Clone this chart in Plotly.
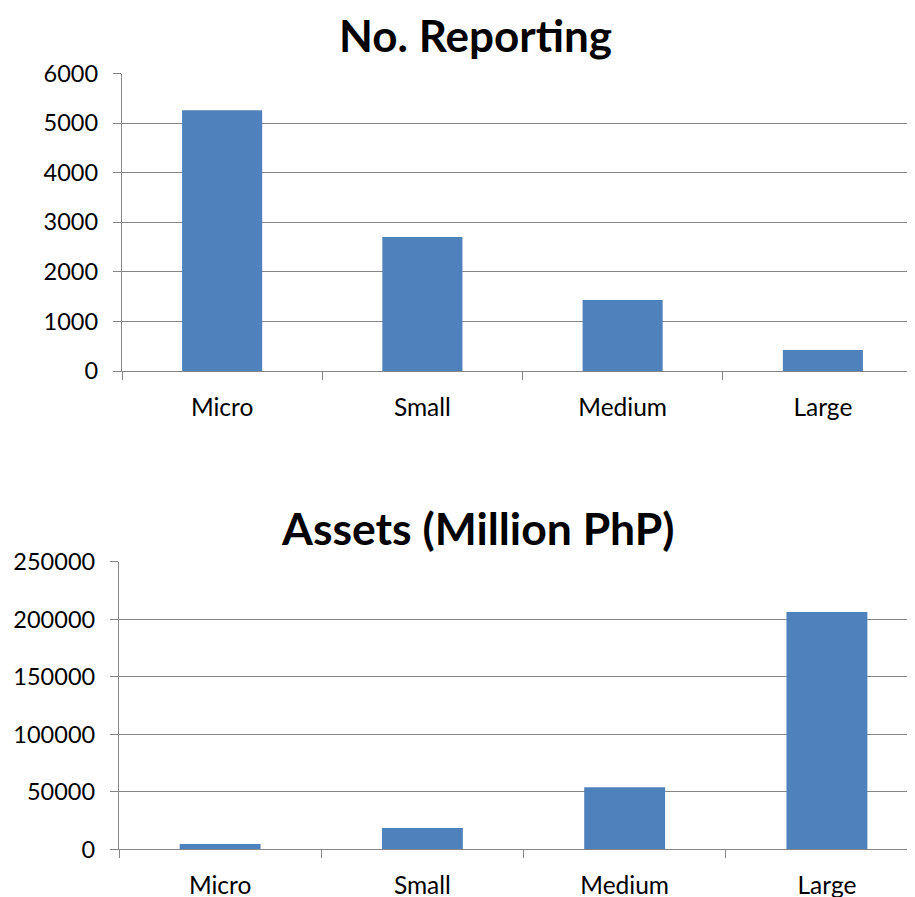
import plotly.graph_objects as go

categories = ["Micro", "Small", "Medium", "Large"]
no_reporting = [5260, 2700, 1430, 425]
assets = [4600, 18500, 53900, 206300]
titles = ["No. Reporting", "Assets (Million PhP)"]

W, H = 915, 897
OFF = 8  # page body margin
BAR = "#4F81BD"
GRID = "#868686"
FONT = "Lato"

fig = go.Figure()
fig.add_trace(go.Bar(x=categories, y=no_reporting, marker=dict(color=BAR, line=dict(width=0)),
                     xaxis="x", yaxis="y", width=0.4))
fig.add_trace(go.Bar(x=categories, y=assets, marker=dict(color=BAR, line=dict(width=0)),
                     xaxis="x2", yaxis="y2", width=0.4))

def px_x(p):
    return (p - OFF) / W

def px_y(p):
    return 1 - (p - OFF) / H

axis_common = dict(showline=True, linecolor=GRID, linewidth=1.3, ticks="outside",
                   tickcolor=GRID, ticklen=8, tickwidth=1.3, automargin=False)
xfont = dict(family=FONT, size=24.5, color="#000000")
yfont = dict(family=FONT, size=23.5, color="#000000")

fig.update_layout(
    template="none",
    width=W, height=H,
    margin=dict(l=0, r=0, t=0, b=0, pad=0),
    paper_bgcolor="white", plot_bgcolor="white",
    showlegend=False,
    xaxis=dict(domain=[px_x(122), 1], anchor="y", range=[-0.5, 3.5],
               tickson="boundaries", showgrid=False, ticklabelstandoff=14,
               tickfont=xfont, **axis_common),
    yaxis=dict(domain=[px_y(371), px_y(73.5)], anchor="x", range=[0, 6000], dtick=1000,
               tickformat="d",
               showgrid=True, gridcolor=GRID, gridwidth=1.3, zeroline=False,
               ticklabelstandoff=10, tickfont=yfont, **axis_common),
    xaxis2=dict(domain=[px_x(119), 1], anchor="y2", range=[-0.5, 3.475],
                tickson="boundaries", showgrid=False, ticklabelstandoff=14,
                tickfont=xfont, **axis_common),
    yaxis2=dict(domain=[px_y(849.3), px_y(561.8)], anchor="x2", range=[0, 250000], dtick=50000,
                tickformat="d",
                showgrid=True, gridcolor=GRID, gridwidth=1.3, zeroline=False,
                ticklabelstandoff=10, tickfont=yfont, **axis_common),
    annotations=[
        dict(text="<b>%s</b>" % titles[0], x=px_x(476), y=1.0, xref="paper", yref="paper",
             xanchor="center", yanchor="top", showarrow=False, borderpad=0,
             font=dict(family=FONT, size=44, color="#000000")),
        dict(text="<b>%s</b>" % titles[1], x=px_x(478), y=px_y(527), xref="paper", yref="paper",
             xanchor="center", yanchor="middle", showarrow=False,
             font=dict(family=FONT, size=44.5, color="#000000")),
    ],
)

fig.write_html("out.html")
